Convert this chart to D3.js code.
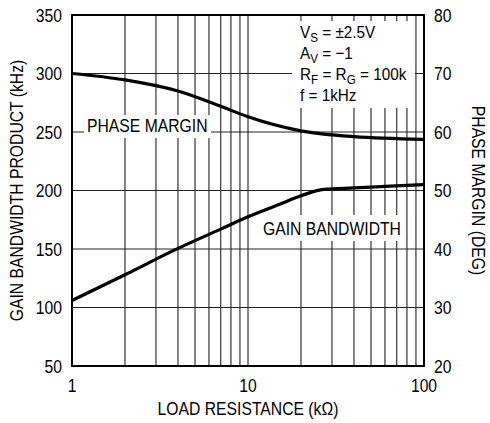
<!DOCTYPE html>
<html>
<head>
<meta charset="utf-8">
<script src="https://cdn.jsdelivr.net/npm/d3@7"></script>
<style>
  body { margin: 0; background: #fff; }
  text { font-family: "Liberation Sans", Arial, sans-serif; fill: #000; }
</style>
</head>
<body>
<div id="chart"></div>
<script>
// gain bandwidth product (kHz) vs load resistance (kOhm), left axis
var gbRes = [1, 2, 4, 7, 10, 15, 20, 27, 40, 60, 100];
var gainBw = [106, 128, 150.5, 167, 177.5, 188, 195.5, 201, 202.2, 203.5, 205];
// phase margin (deg) vs load resistance (kOhm), right axis
var pmRes = [1, 2, 4, 7, 10, 20, 40, 100];
var phaseMargin = [70, 68.9, 67, 64.4, 62.6, 60.2, 59.2, 58.75];

var leftTicks = [50, 100, 150, 200, 250, 300, 350];
var rightTicks = [20, 30, 40, 50, 60, 70, 80];
var xTicks = [1, 10, 100];
var xMinor = [2, 3, 4, 5, 6, 7, 8, 9, 20, 30, 40, 50, 60, 70, 80, 90];

var W = 490, H = 423,
    pL = 72, pR = 424, pT = 15, pB = 366;

var x = d3.scaleLog().domain([1, 100]).range([pL, pR]),
    yL = d3.scaleLinear().domain([50, 350]).range([pB, pT]),
    yR = d3.scaleLinear().domain([20, 80]).range([pB, pT]);

var svg = d3.select('#chart').append('svg')
  .attr('width', W).attr('height', H);

// grid
var grid = svg.append('g').attr('stroke', '#222').attr('stroke-width', 1.1);
grid.selectAll('line.v').data(xMinor.concat([10])).enter().append('line')
  .attr('x1', function(d) { return x(d); }).attr('x2', function(d) { return x(d); })
  .attr('y1', pT).attr('y2', pB);
grid.selectAll('line.h').data(leftTicks.slice(1, -1)).enter().append('line')
  .attr('x1', pL).attr('x2', pR)
  .attr('y1', function(d) { return yL(d); }).attr('y2', function(d) { return yL(d); });

// white boxes behind the labels
function whiteBox(x0, y0, x1, y1) {
  svg.append('rect').attr('x', x0).attr('y', y0)
    .attr('width', x1 - x0).attr('height', y1 - y0).attr('fill', '#fff');
}
whiteBox(84, 115, 211, 138);
whiteBox(258, 215, 406, 241);
whiteBox(292, 21, 415, 108);

// curves
var gbLine = d3.line()
  .x(function(d) { return x(d[0]); })
  .y(function(d) { return yL(d[1]); })
  .curve(d3.curveMonotoneX);
var pmLine = d3.line()
  .x(function(d) { return x(d[0]); })
  .y(function(d) { return yR(d[1]); })
  .curve(d3.curveMonotoneX);

svg.append('path')
  .datum(d3.zip(gbRes, gainBw))
  .attr('d', gbLine)
  .attr('fill', 'none').attr('stroke', '#000').attr('stroke-width', 3.2);
svg.append('path')
  .datum(d3.zip(pmRes, phaseMargin))
  .attr('d', pmLine)
  .attr('fill', 'none').attr('stroke', '#000').attr('stroke-width', 3.2);

// frame
svg.append('rect')
  .attr('x', pL).attr('y', pT)
  .attr('width', pR - pL).attr('height', pB - pT)
  .attr('fill', 'none').attr('stroke', '#000').attr('stroke-width', 2);

// narrow-looking text: no condensed face is installed, so squeeze horizontally
var fs = 18.5, sx = 0.85;
function label(tx, ty, str, anchor, rot) {
  return svg.append('text')
    .attr('transform', 'translate(' + tx + ',' + ty + ')' + (rot ? ' rotate(' + rot + ')' : '') + ' scale(' + sx + ',1)')
    .attr('text-anchor', anchor || 'start').attr('font-size', fs)
    .text(str);
}

leftTicks.forEach(function(d) { label(pL - 10, yL(d) + 6.5, d, 'end'); });
rightTicks.forEach(function(d) { label(pR + 10, yR(d) + 6.5, d, 'start'); });
xTicks.forEach(function(d) { label(x(d), pB + 26, d, 'middle'); });

// axis titles
label(23, (pT + pB) / 2, 'GAIN BANDWIDTH PRODUCT (kHz)', 'middle', -90);
label(472, (pT + pB) / 2, 'PHASE MARGIN (DEG)', 'middle', 90);
label((pL + pR) / 2, 415, 'LOAD RESISTANCE (kΩ)', 'middle');

// curve labels
label(87, 132, 'PHASE MARGIN');
label(263, 235, 'GAIN BANDWIDTH');

// conditions
var cond = [
  [['V', 0], ['S', 1], [' = ±2.5V', 0]],
  [['A', 0], ['V', 1], [' = −1', 0]],
  [['R', 0], ['F', 1], [' = R', 0], ['G', 1], [' = 100k', 0]],
  [['f = 1kHz', 0]]
];
var condY = [38, 59, 80, 101];
cond.forEach(function(parts, i) {
  var t = svg.append('text')
    .attr('transform', 'translate(300,' + condY[i] + ') scale(0.9,1)')
    .attr('font-size', 17);
  var shifted = 0;
  parts.forEach(function(p) {
    var dy = p[1] ? 4 - shifted : -shifted;
    shifted = p[1] ? 4 : 0;
    t.append('tspan').attr('dy', dy)
      .attr('font-size', p[1] ? 13 : 17)
      .text(p[0]);
  });
});
</script>
</body>
</html>
